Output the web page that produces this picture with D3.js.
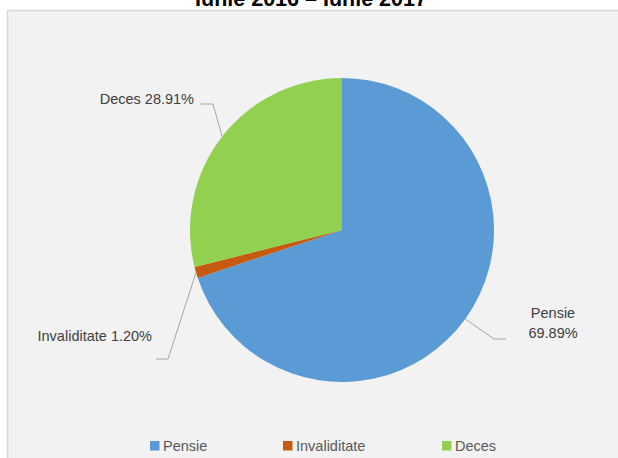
<!DOCTYPE html>
<html><head><meta charset="utf-8">
<script src="https://cdn.jsdelivr.net/npm/d3@7"></script>
<style>html,body{margin:0;padding:0;background:#fff;}svg{display:block;font-family:"Liberation Sans",Arial,sans-serif;}</style>
</head><body>
<svg id="c" width="618" height="458"></svg>
<script>
const categories = ["Pensie", "Invaliditate", "Deces"];
const values = [69.89, 1.20, 28.91];
const labelTexts = ["Pensie 69.89%", "Invaliditate 1.20%", "Deces 28.91%"];
const colors = ["#5B9BD5", "#C55A11", "#92D050"];
const title = "Iunie 2016 – Iunie 2017";

const svg = d3.select("#c");
svg.append("rect").attr("x",7.5).attr("y",10.5).attr("width",620).attr("height",460)
  .attr("fill","#f2f2f2").attr("stroke","#d9d9d9").attr("stroke-width",1.5);

svg.append("text").attr("x",311).attr("y",6).attr("text-anchor","middle")
  .attr("font-size",21.5).attr("font-weight","bold").attr("fill","#000").text(title);

const cx = 342, cy = 230, R = 152;
const data = categories.map((c,i)=>({cat:c, value:values[i], label:labelTexts[i], color:colors[i]}));
const pie = d3.pie().value(d=>d.value).sort(null);
const arcs = pie(data);
const arc = d3.arc().innerRadius(0).outerRadius(R);
const g = svg.append("g").attr("transform",`translate(${cx},${cy})`);
g.selectAll("path").data(arcs).join("path").attr("d",arc).attr("fill",d=>d.data.color);

// label layout (leader elbow + text placement relative to chart)
const layout = {
  "Pensie":       {elbow:[494,339], end:[506,339], anchor:"middle", tx:553, ty:[318,338], lines:["Pensie","69.89%"]},
  "Invaliditate": {elbow:[168,359], end:[156,359], anchor:"end", tx:152, ty:[341]},
  "Deces":        {elbow:[213,104], end:[200,104], anchor:"end", tx:194, ty:[104]}
};
arcs.forEach(a=>{
  const L = layout[a.data.cat];
  const mid = (a.startAngle + a.endAngle)/2;
  const sx = cx + R*Math.sin(mid), sy = cy - R*Math.cos(mid);
  svg.append("polyline")
    .attr("points",[[sx,sy],L.elbow,L.end].map(p=>p.join(",")).join(" "))
    .attr("fill","none").attr("stroke","#a6a6a6").attr("stroke-width",1);
  const lines = L.lines || [a.data.label];
  lines.forEach((t,i)=>{
    svg.append("text").attr("x",L.tx).attr("y",L.ty[i]).attr("text-anchor",L.anchor)
      .attr("font-size",14.5).attr("fill","#404040").text(t);
  });
});

// legend
const legendX = [150, 283, 442];
const lg = svg.append("g");
data.forEach((d,i)=>{
  lg.append("rect").attr("x",legendX[i]).attr("y",441).attr("width",9.5).attr("height",9.5).attr("fill",d.color);
  lg.append("text").attr("x",legendX[i]+13).attr("y",450.5).attr("font-size",14.5).attr("fill","#595959").text(d.cat);
});
</script>
</body></html>
